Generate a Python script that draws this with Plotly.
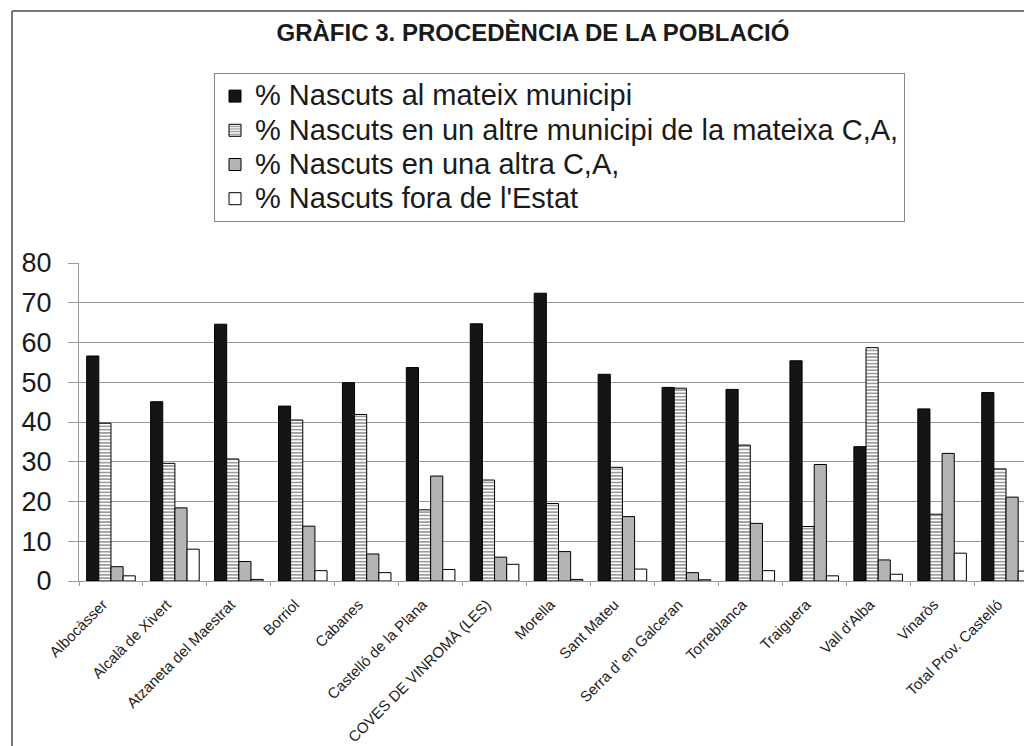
import plotly.graph_objects as go

categories = ["Albocàsser", "Alcalà de Xivert", "Atzaneta del Maestrat", "Borriol",
              "Cabanes", "Castelló de la Plana", "COVES DE VINROMÀ (LES)", "Morella",
              "Sant Mateu", "Serra d' en Galceran", "Torreblanca", "Traiguera",
              "Vall d'Alba", "Vinaròs", "Total Prov. Castelló"]

mateix_municipi = [56.6, 45.1, 64.6, 44.0, 49.9, 53.7, 64.7, 72.4, 52.0, 48.7, 48.2, 55.4, 33.8, 43.3, 47.4]
altre_municipi = [39.7, 29.6, 30.7, 40.5, 41.9, 17.9, 25.4, 19.5, 28.6, 48.5, 34.2, 13.7, 58.7, 16.8, 28.2]
altra_ca = [3.6, 18.4, 4.9, 13.8, 6.8, 26.4, 6.0, 7.4, 16.2, 2.1, 14.5, 29.3, 5.3, 32.1, 21.1]
fora_estat = [1.3, 8.0, 0.4, 2.6, 2.1, 2.9, 4.2, 0.4, 3.0, 0.3, 2.6, 1.3, 1.7, 7.0, 2.5]

series_names = ["% Nascuts al mateix municipi",
                "% Nascuts en un altre municipi de la mateixa C,A,",
                "% Nascuts en una altra C,A,",
                "% Nascuts fora de l'Estat"]

y_ticks = [0, 10, 20, 30, 40, 50, 60, 70, 80]

FONT = "Liberation Sans, Arial, sans-serif"
W, H = 1032, 746
OFF = 8  # page body offset
L, R, T, B = 71, 2, 255, 173


def legend_label(name):
    return '<span style="font-size:29px">' + name + "</span>"


fig = go.Figure()
fig.add_trace(go.Bar(x=categories, y=mateix_municipi, name=legend_label(series_names[0]),
                     marker=dict(color="#151515", line=dict(color="#000", width=1))))
fig.add_trace(go.Bar(x=categories, y=altre_municipi, name=legend_label(series_names[1]),
                     marker=dict(color="white", line=dict(color="#000", width=1),
                                 pattern=dict(shape="-", fgcolor="#222", bgcolor="white",
                                              size=3.3, solidity=0.45))))
fig.add_trace(go.Bar(x=categories, y=altra_ca, name=legend_label(series_names[2]),
                     marker=dict(color="#b4b4b4", line=dict(color="#000", width=1))))
fig.add_trace(go.Bar(x=categories, y=fora_estat, name=legend_label(series_names[3]),
                     marker=dict(color="white", line=dict(color="#000", width=1))))

pw = W - L - R
ph = H - T - B


def px(x):
    # x given in screenshot pixels
    return (x - OFF - L) / pw


def py(y):
    return (H - B - (y - OFF)) / ph


fig.update_layout(
    width=W, height=H,
    margin=dict(l=L, r=R, t=T, b=B, autoexpand=False),
    paper_bgcolor="white", plot_bgcolor="white",
    font=dict(family=FONT, color="#1a1a1a"),
    barmode="group", bargap=0.24, bargroupgap=0.0,
    title=dict(text="<b>GRÀFIC 3. PROCEDÈNCIA DE LA POBLACIÓ</b>",
               font=dict(family=FONT, size=24, color="#1a1a1a"),
               x=(533 - OFF) / W, xanchor="center", xref="container",
               y=1 - (33 - OFF) / H, yanchor="middle", yref="container"),
    legend=dict(x=px(214), y=py(73), xanchor="left", yanchor="top",
                bordercolor="#888", borderwidth=1, bgcolor="white",
                font=dict(family=FONT, size=24, color="#1a1a1a"),
                tracegroupgap=0, itemwidth=30),
    showlegend=True,
    xaxis=dict(showgrid=False, showline=True, linecolor="#999", linewidth=1,
               ticks="outside", ticklen=4, tickcolor="#999", tickson="boundaries",
               tickangle=-45, tickfont=dict(family=FONT, size=15, color="#222"),
               ticklabelstandoff=8, ticklabelshift=-8),
    yaxis=dict(range=[0, 80], tickvals=y_ticks, showgrid=True, gridcolor="#9a9a9a",
               gridwidth=1, showline=True, linecolor="#999", linewidth=1,
               ticks="outside", ticklen=10, tickcolor="#9a9a9a",
               tickfont=dict(family=FONT, size=27, color="#1a1a1a"),
               ticklabelstandoff=11, zeroline=False),
    shapes=[
        dict(type="line", xref="paper", yref="paper", x0=px(12), x1=px(W + 20),
             y0=py(11), y1=py(11), line=dict(color="#777", width=2)),
        dict(type="line", xref="paper", yref="paper", x0=px(12), x1=px(12),
             y0=py(11), y1=py(H + 20), line=dict(color="#777", width=2)),
    ],
)

fig.write_html("out.html")
